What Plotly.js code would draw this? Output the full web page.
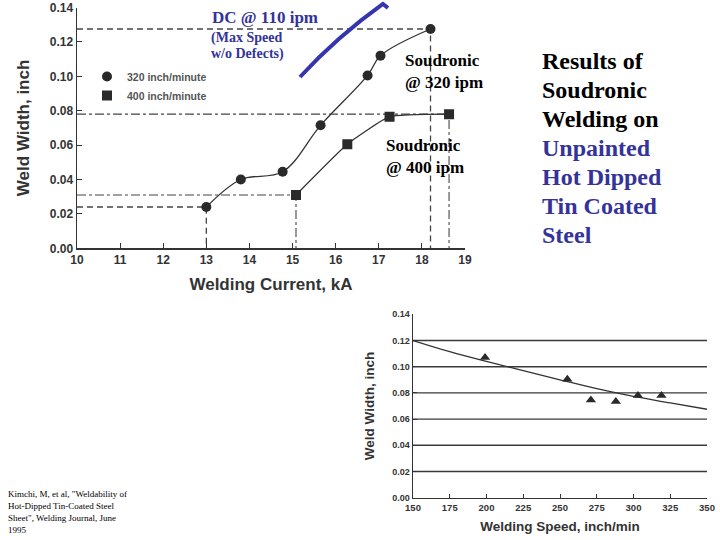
<!DOCTYPE html>
<html>
<head>
<meta charset="utf-8">
<script src="https://cdn.plot.ly/plotly-3.0.1.min.js"></script>
<style>html,body{margin:0;padding:0;background:#fff;}#chart{width:720px;height:540px;}</style>
</head>
<body>
<div id="chart"></div>
<script>
// ---- Data: weld width vs welding current (top chart) ----
const current320 = [13.0, 13.8, 14.77, 15.65, 16.74, 17.04, 18.2];
const width320   = [0.024, 0.040, 0.0445, 0.0715, 0.1005, 0.112, 0.1275];
const current400 = [15.08, 16.27, 17.25, 18.63];
const width400   = [0.031, 0.0605, 0.0765, 0.078];
const seriesNames = ["320 inch/minute", "400 inch/minute"];
const currentTicks = [10, 11, 12, 13, 14, 15, 16, 17, 18, 19];
const widthTicks = [0, 0.02, 0.04, 0.06, 0.08, 0.10, 0.12, 0.14];

// ---- Data: weld width vs welding speed (bottom chart) ----
const speed      = [199, 255, 271, 288, 303, 319];
const widthSpeed = [0.107, 0.0905, 0.0745, 0.0735, 0.078, 0.078];
const fitSpeed   = [150, 175, 200, 225, 250, 275, 300, 325, 350];
const fitWidth   = [0.120, 0.1115, 0.104, 0.097, 0.090, 0.0832, 0.0773, 0.0724, 0.0675];
const speedTicks = [150, 175, 200, 225, 250, 275, 300, 325, 350];
const gridLevels = [0.02, 0.04, 0.06, 0.08, 0.10, 0.12];

// ---- Texts ----
const sideTitle = ["Results of", "Soudronic", "Welding on", "Unpainted", "Hot Dipped", "Tin Coated", "Steel"];
const sideTitleBlueFrom = 3;
const citation = ['Kimchi, M, et al, "Weldability of', 'Hot-Dipped Tin-Coated Steel', 'Sheet", Welding Journal, June', '1995'];

const ink = '#333';
const blue = '#333399';
const serif = 'Liberation Serif, Times New Roman, serif';
const sans = 'Liberation Sans, Arial, sans-serif';

const x0 = currentTicks[0];
const first = (a) => a[0];
const last = (a) => a[a.length - 1];

const traces = [
  // guide lines for 320 ipm
  {x: [x0, first(current320), first(current320)], y: [first(width320), first(width320), 0], mode: 'lines',
   line: {color: '#444', width: 1.3, dash: '6px,4px'}, showlegend: false, hoverinfo: 'skip', xaxis: 'x', yaxis: 'y'},
  {x: [x0, last(current320), last(current320)], y: [last(width320), last(width320), 0], mode: 'lines',
   line: {color: '#444', width: 1.3, dash: '6px,4px'}, showlegend: false, hoverinfo: 'skip', xaxis: 'x', yaxis: 'y'},
  // guide lines for 400 ipm
  {x: [x0, first(current400), first(current400)], y: [first(width400), first(width400), 0], mode: 'lines',
   line: {color: '#444', width: 1.1, dash: 'dashdot'}, showlegend: false, hoverinfo: 'skip', xaxis: 'x', yaxis: 'y'},
  {x: [x0, last(current400), last(current400)], y: [last(width400), last(width400), 0], mode: 'lines',
   line: {color: '#444', width: 1.1, dash: 'dashdot'}, showlegend: false, hoverinfo: 'skip', xaxis: 'x', yaxis: 'y'},
  // curves
  {x: current320, y: width320, mode: 'lines', line: {color: ink, width: 1.3, shape: 'spline', smoothing: 1},
   showlegend: false, hoverinfo: 'skip', xaxis: 'x', yaxis: 'y'},
  {x: current400, y: width400, mode: 'lines', line: {color: ink, width: 1.3, shape: 'spline', smoothing: 0.4},
   showlegend: false, hoverinfo: 'skip', xaxis: 'x', yaxis: 'y'},
  // markers (legend entries)
  {x: current320, y: width320, mode: 'markers', name: seriesNames[0],
   marker: {symbol: 'circle', size: 10, color: '#2a2a2a'}, xaxis: 'x', yaxis: 'y'},
  {x: current400, y: width400, mode: 'markers', name: seriesNames[1],
   marker: {symbol: 'square', size: 10, color: '#2a2a2a'}, xaxis: 'x', yaxis: 'y'},
  // bottom chart grid lines
  ...gridLevels.map(g => ({x: [speedTicks[0], last(speedTicks)], y: [g, g], mode: 'lines',
   line: {color: '#3a3a3a', width: 1.4}, showlegend: false, hoverinfo: 'skip', xaxis: 'x2', yaxis: 'y2'})),
  // bottom chart fit curve and points
  {x: fitSpeed, y: fitWidth, mode: 'lines', line: {color: ink, width: 1.3, shape: 'spline'},
   showlegend: false, xaxis: 'x2', yaxis: 'y2'},
  {x: speed, y: widthSpeed, mode: 'markers', marker: {symbol: 'triangle-up', size: 9, color: '#2a2a2a'},
   showlegend: false, xaxis: 'x2', yaxis: 'y2'}
];

const annotations = [];
annotations.push({xref: 'paper', yref: 'paper', x: 210/720, y: 1 - 18/540, xanchor: 'left', yanchor: 'middle',
  text: '<b>DC @ 110 ipm</b>', showarrow: false, font: {family: serif, size: 17, color: blue}});
annotations.push({xref: 'paper', yref: 'paper', x: 209/720, y: 1 - 38/540, xanchor: 'left', yanchor: 'middle',
  text: '<b>(Max Speed</b>', showarrow: false, font: {family: serif, size: 14, color: blue}});
annotations.push({xref: 'paper', yref: 'paper', x: 209/720, y: 1 - 54/540, xanchor: 'left', yanchor: 'middle',
  text: '<b>w/o Defects)</b>', showarrow: false, font: {family: serif, size: 14, color: blue}});
annotations.push({xref: 'paper', yref: 'paper', x: 403/720, y: 1 - 61/540, xanchor: 'left', yanchor: 'middle',
  text: '<b>Soudronic</b>', showarrow: false, font: {family: serif, size: 17, color: '#000'}});
annotations.push({xref: 'paper', yref: 'paper', x: 403/720, y: 1 - 83/540, xanchor: 'left', yanchor: 'middle',
  text: '<b>@ 320 ipm</b>', showarrow: false, font: {family: serif, size: 17, color: '#000'}});
annotations.push({xref: 'paper', yref: 'paper', x: 384/720, y: 1 - 145/540, xanchor: 'left', yanchor: 'middle',
  text: '<b>Soudronic</b>', showarrow: false, font: {family: serif, size: 17, color: '#000'}});
annotations.push({xref: 'paper', yref: 'paper', x: 384/720, y: 1 - 167/540, xanchor: 'left', yanchor: 'middle',
  text: '<b>@ 400 ipm</b>', showarrow: false, font: {family: serif, size: 17, color: '#000'}});
sideTitle.forEach((t, i) => annotations.push({xref: 'paper', yref: 'paper', x: 540/720, y: 1 - (61 + 29*i)/540,
  xanchor: 'left', yanchor: 'middle', text: '<b>' + t + '</b>', showarrow: false,
  font: {family: serif, size: 24, color: i >= sideTitleBlueFrom ? blue : '#000'}}));
citation.forEach((t, i) => annotations.push({xref: 'paper', yref: 'paper', x: 6/720, y: 1 - (494 + 12*i)/540,
  xanchor: 'left', yanchor: 'middle', text: t, showarrow: false,
  font: {family: serif, size: 9, color: '#000'}}));

const P = (px, py) => (px/720).toFixed(4) + ',' + (1 - py/540).toFixed(4);
const shapes = [{
  type: 'path', xref: 'paper', yref: 'paper',
  path: 'M' + P(300, 77) + ' C' + P(325, 50) + ' ' + P(355, 24) + ' ' + P(383, 4) + ' L' + P(388, 8),
  line: {color: '#3535b0', width: 4}
}];

const axisFont = (s) => ({family: sans, size: s, color: ink, weight: 'bold'});

const layout = {
  width: 720, height: 540,
  margin: {l: 0, r: 0, t: 0, b: 0},
  paper_bgcolor: '#fff', plot_bgcolor: 'rgba(0,0,0,0)',
  showlegend: true,
  legend: {x: 87/720, y: 1 - 62/540, xanchor: 'left', yanchor: 'top', bgcolor: 'rgba(0,0,0,0)',
    font: {family: sans, size: 10.5, color: '#555', weight: 'bold'}, tracegroupgap: 0, itemwidth: 30},
  xaxis: {domain: [77/720, 465/720], range: [10, 19], tickvals: currentTicks, ticks: 'inside', ticklen: 5,
    tickcolor: ink, showline: true, linecolor: ink, linewidth: 1.5, showgrid: false, zeroline: false,
    tickfont: axisFont(12), automargin: false,
    title: {text: 'Welding Current, kA', font: axisFont(17), standoff: 12}},
  yaxis: {domain: [1 - 248.3/540, 1 - 7.5/540], range: [0, 0.14], tickvals: widthTicks, tickformat: '.2f',
    ticks: 'inside', ticklen: 5, tickcolor: ink, showline: true, linecolor: ink, linewidth: 1.5,
    showgrid: false, zeroline: false, tickfont: axisFont(12), automargin: false,
    title: {text: 'Weld Width, inch', font: axisFont(17), standoff: 16}},
  xaxis2: {domain: [413/720, 707/720], range: [150, 350], tickvals: speedTicks, ticks: 'inside', ticklen: 4,
    tickcolor: ink, showline: true, linecolor: ink, linewidth: 1.4, showgrid: false, zeroline: false,
    tickfont: axisFont(9.5), automargin: false, anchor: 'y2',
    title: {text: 'Welding Speed, inch/min', font: axisFont(13.5), standoff: 10}},
  yaxis2: {domain: [1 - 497.7/540, 1 - 314.3/540], range: [0, 0.14], tickvals: widthTicks, tickformat: '.2f',
    ticks: 'inside', ticklen: 4, tickcolor: ink, showline: true, linecolor: ink, linewidth: 1.4,
    showgrid: false, zeroline: false, tickfont: axisFont(9), automargin: false, anchor: 'x2',
    title: {text: 'Weld Width, inch', font: axisFont(13.5), standoff: 14}},
  annotations: annotations,
  shapes: shapes
};

Plotly.newPlot('chart', traces, layout, {displayModeBar: false, staticPlot: true});
</script>
</body>
</html>
